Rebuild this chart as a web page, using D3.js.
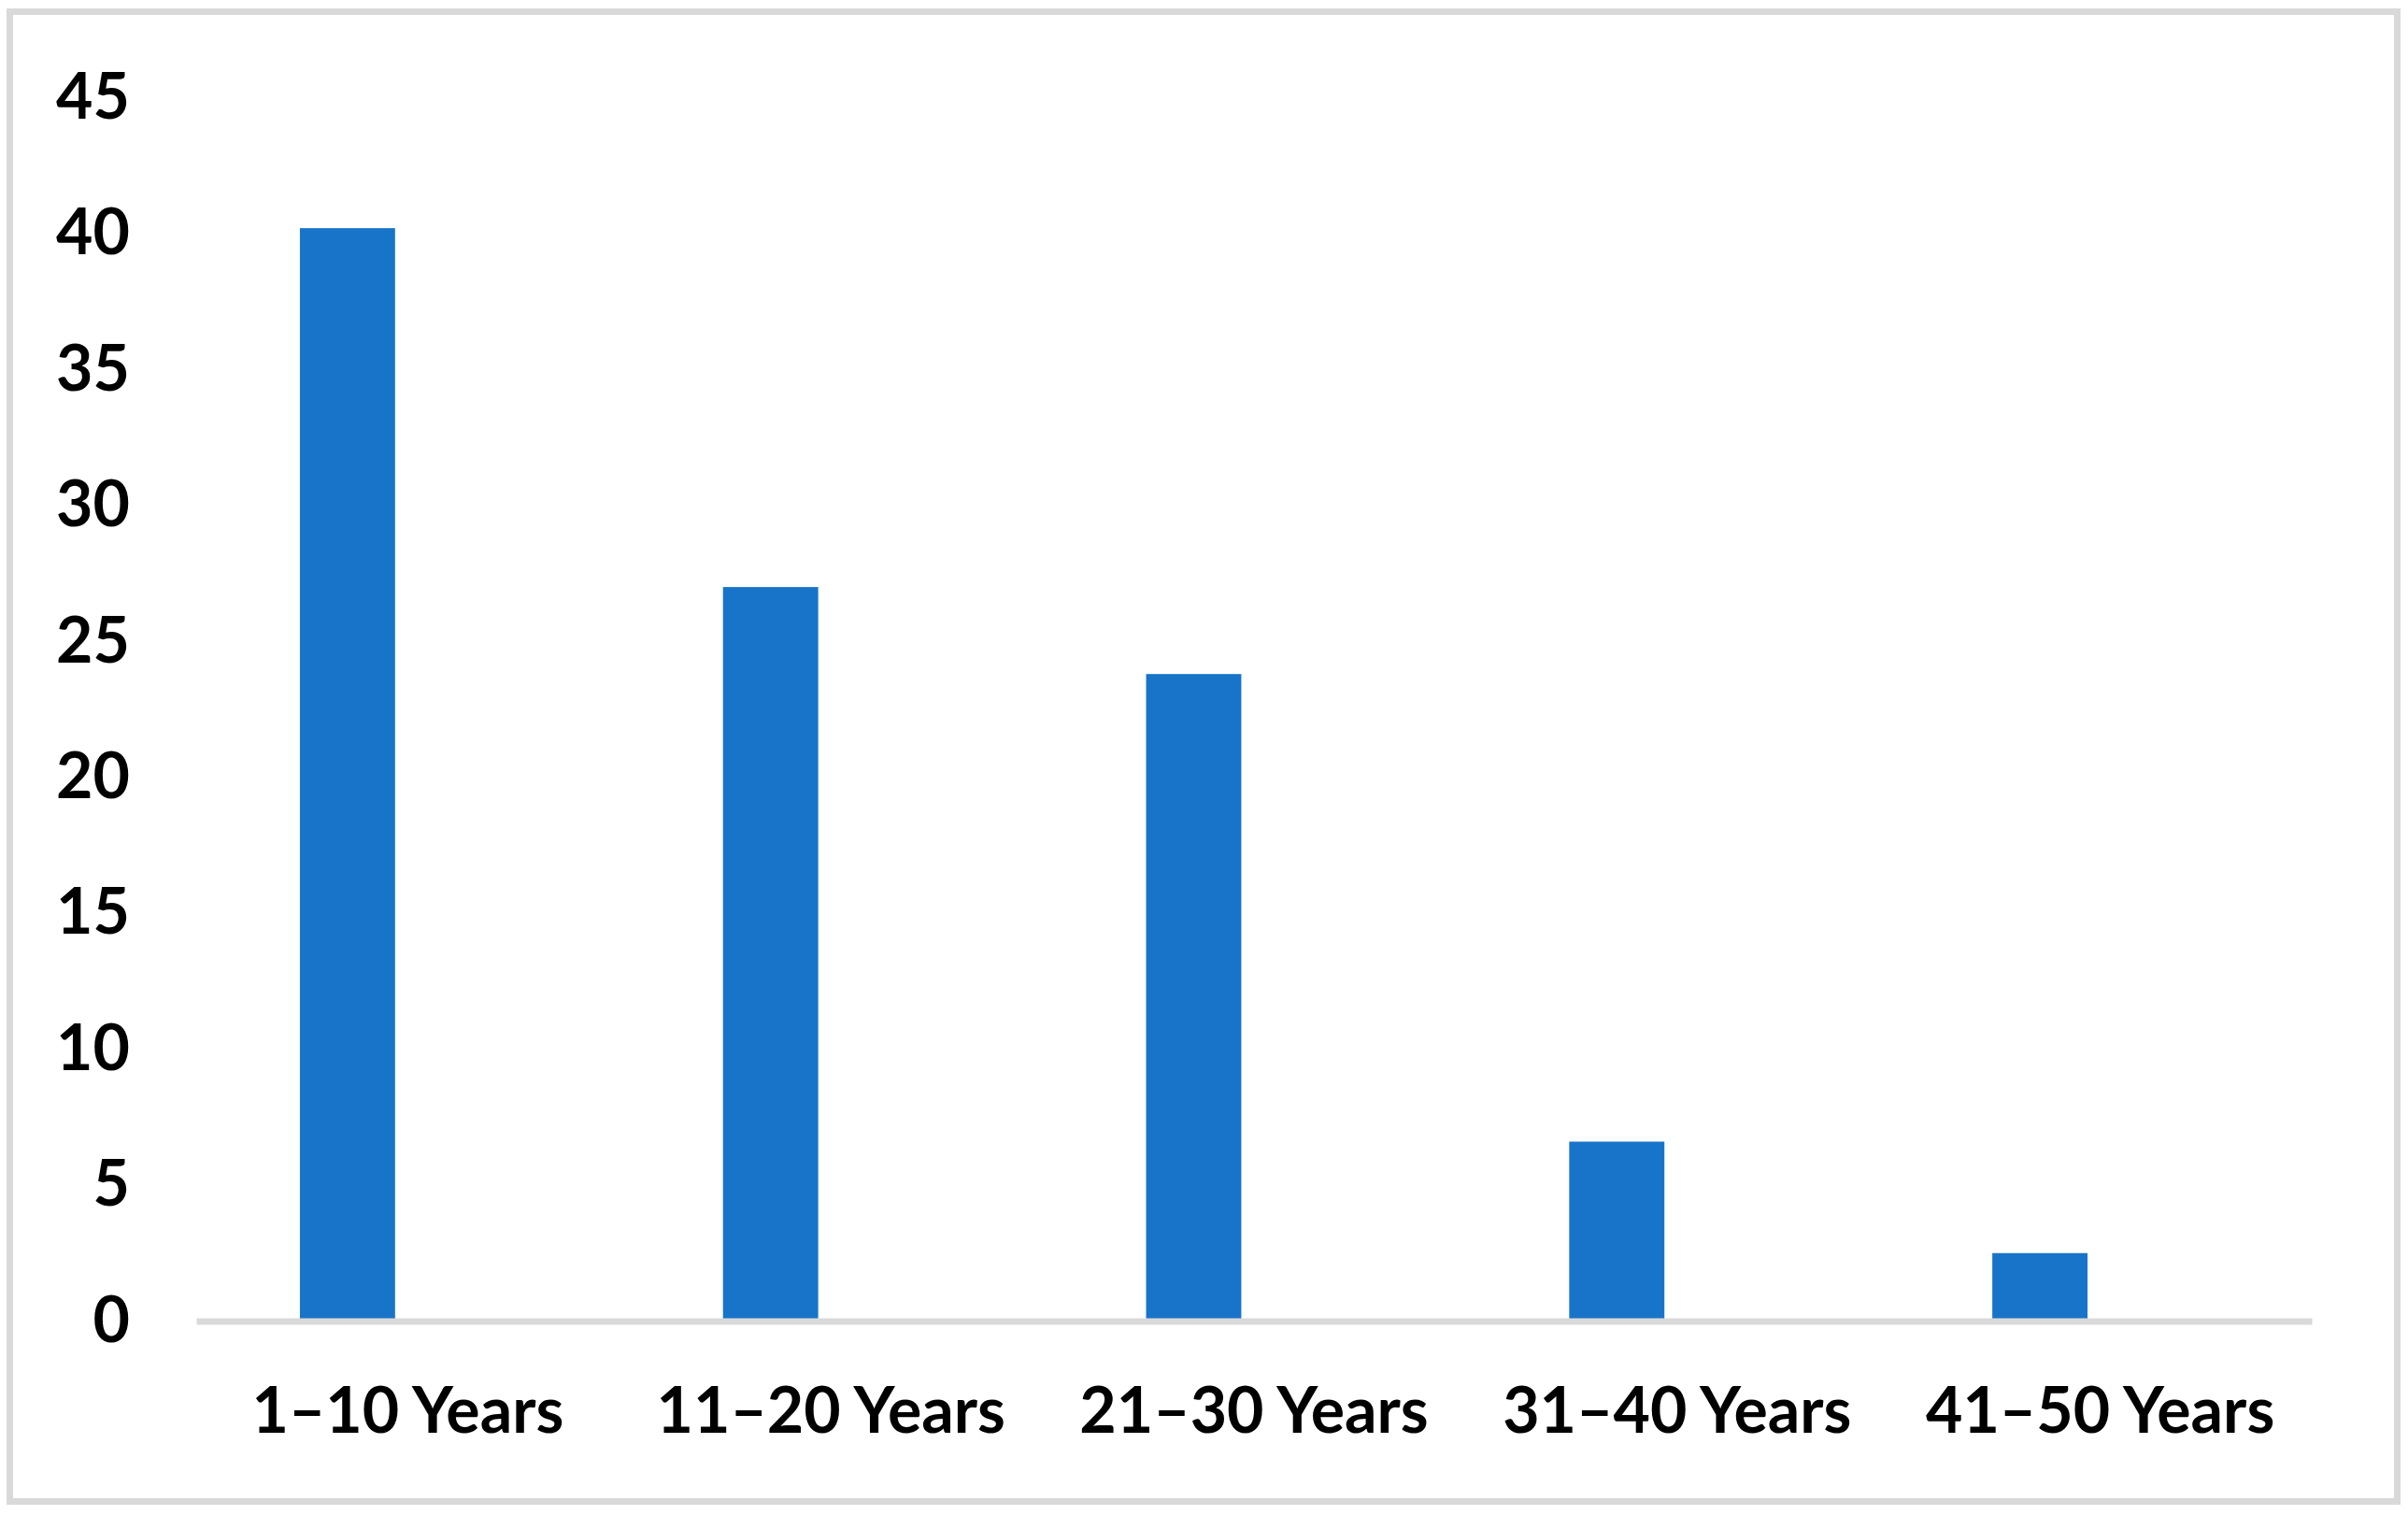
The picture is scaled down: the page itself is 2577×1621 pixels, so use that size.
<!DOCTYPE html>
<html>
<head>
<meta charset="utf-8">
<script src="https://cdn.jsdelivr.net/npm/d3@7"></script>
<style>
    html, body { margin: 0; padding: 0; background: #fff; }
    .axis text { font-family: Lato, 'Noto Sans', sans-serif; font-weight: 700; font-size: 68px; fill: #000; }
</style>
</head>
<body>
<div id="chart"></div>
<script>

var categories = ['1\u201310 Years', '11\u201320 Years', '21\u201330 Years', '31\u201340 Years', '41\u201350 Years'];
var values = [40.2, 27.0, 23.8, 6.6, 2.5];
var yTicks = [0, 5, 10, 15, 20, 25, 30, 35, 40, 45];

var width = 2577;
var height = 1621;
var margin = { left: 210, right: 103, top: 104.5, bottom: 207.5 };

var barColor = '#1874c9';
var gridColor = '#d9d9d9';

var svg = d3.select('#chart')
    .append('svg')
    .attr('width', width)
    .attr('height', height);

// outer chart frame
svg.append('rect')
    .attr('x', 10.5)
    .attr('y', 12.5)
    .attr('width', 2555)
    .attr('height', 1594)
    .style('fill', '#fff')
    .style('stroke', gridColor)
    .style('stroke-width', 7);

var xScale = d3.scaleBand()
    .domain(categories)
    .range([margin.left, width - margin.right]);

var yScale = d3.scaleLinear()
    .domain([0, 45])
    .range([height - margin.bottom, margin.top]);

// bars sit left of the band centre, like an Excel cluster
var step = xScale.bandwidth();
var barOffset = step * 0.245;
var barWidth = step * 0.225;

svg.append('g')
    .selectAll('rect.bar')
    .data(values)
    .enter()
    .append('rect')
    .attr('class', 'bar')
    .attr('x', (d, i) => xScale(categories[i]) + barOffset)
    .attr('y', d => yScale(d))
    .attr('width', barWidth)
    .attr('height', d => yScale(0) - yScale(d))
    .style('fill', barColor);

var xAxis = svg.append('g')
    .attr('class', 'axis x-axis')
    .attr('transform', 'translate(0,' + yScale(0) + ')')
    .call(d3.axisBottom(xScale).tickSize(0).tickSizeOuter(0).tickPadding(71));

xAxis.select('.domain')
    .style('stroke', gridColor)
    .style('stroke-width', 7);

var yAxis = svg.append('g')
    .attr('class', 'axis y-axis')
    .attr('transform', 'translate(139,0)')
    .call(d3.axisLeft(yScale).tickValues(yTicks).tickSize(0).tickPadding(0));

yAxis.select('.domain').remove();

</script>
</body>
</html>
